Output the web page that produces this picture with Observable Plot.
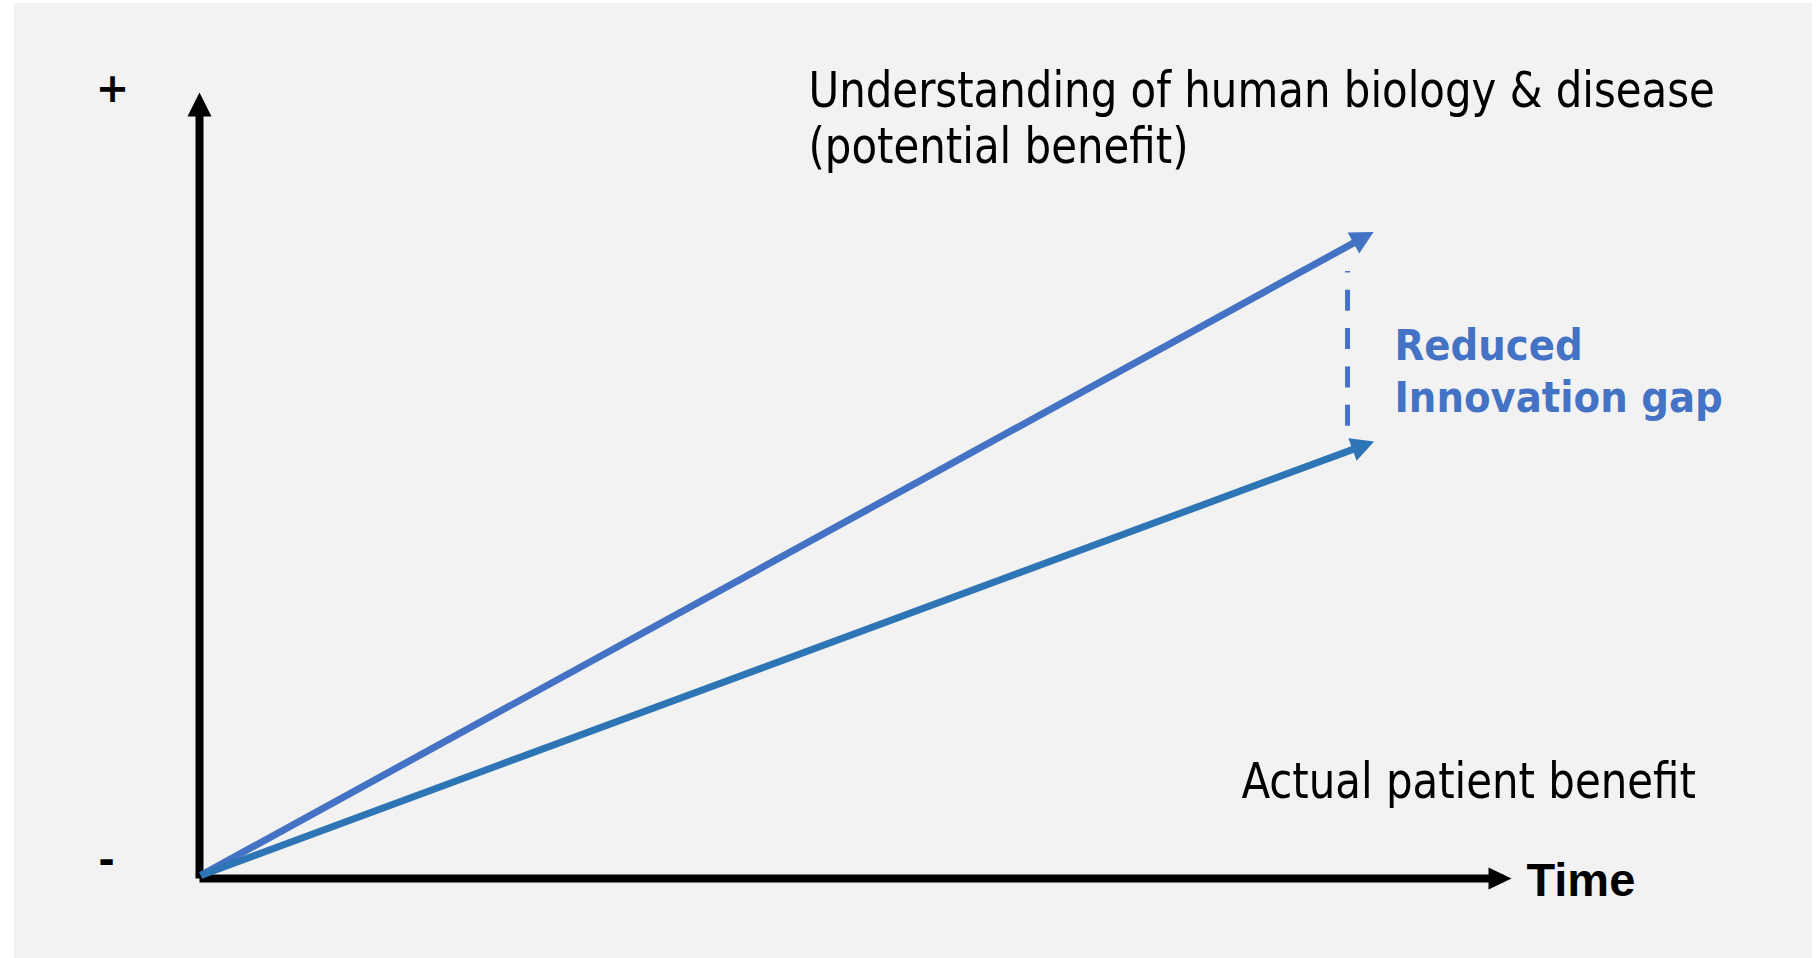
<!DOCTYPE html>
<html>
<head>
<meta charset="utf-8">
<script src="https://cdn.jsdelivr.net/npm/d3@7"></script>
<script src="https://cdn.jsdelivr.net/npm/@observablehq/plot@0.6"></script>
<style>
  html, body { margin: 0; padding: 0; background: #ffffff; }
  #chart { position: absolute; left: 14px; top: 3px; }
  #chart svg { display: block; background: #F2F2F2; }
</style>
</head>
<body>
<div id="chart"></div>
<script>
// ---- Data ----
const seriesNames = ["Understanding of human biology & disease\n(potential benefit)", "Actual patient benefit"];
const seriesColors = ["#4472C4", "#2E75B6"];
const startTime = [0.1, 0.1];
const startBenefit = [0.4, 0.4];
const endTime = [89.5, 89.5];
const endBenefit = [82.6, 55.8];

const gapLabel = "Reduced\nInnovation gap";
const gapTime = 88.04;
const gapBenefit = [58.2, 78.1]; // drawn bottom -> top

const seriesLabelTime = [46.7, 79.9];
const seriesLabelBenefit = [92.0, 10.4];
const gapLabelTime = 91.64;
const gapLabelBenefit = 60.0;

const axisMax = [100, 100];
const axisTitle = "Time";
const axisTitleTime = 101.76;
const axisTitleBenefit = -2.31;
const yTickLabels = ["+", "-"];
const yTickTime = [-6.67, -7.13];
const yTickBenefit = [101.5, 2.19];

// ---- Table built from arrays ----
const series = seriesNames.map((name, i) => ({
  name, color: seriesColors[i],
  x1: startTime[i], y1: startBenefit[i], x2: endTime[i], y2: endBenefit[i],
  lx: seriesLabelTime[i], ly: seriesLabelBenefit[i]
}));
const axes = [
  {x1: 0, y1: 0, x2: axisMax[0], y2: 0, dir: "x"},
  {x1: 0, y1: 0, x2: 0, y2: axisMax[1], dir: "y"}
];
const ticks = yTickLabels.map((t, i) => ({t, x: yTickTime[i], y: yTickBenefit[i]}));

// ---- Custom filled-triangle arrowheads ----
function headMarker(path) {
  return (color) => {
    const m = d3.create("svg:marker")
      .attr("markerUnits", "userSpaceOnUse")
      .attr("markerWidth", 1).attr("markerHeight", 1)
      .attr("refX", 0).attr("refY", 0)
      .attr("orient", "auto")
      .attr("overflow", "visible");
    m.append("path").attr("d", path).attr("fill", color).attr("stroke", "none");
    return m.node();
  };
}
const yAxisHead = headMarker("M-16,-12L8,0L-16,12Z");
const xAxisHead = headMarker("M-15,-11L8,0L-15,11Z");
const seriesHead = headMarker("M-15,-12L8,0L-15,12Z");

const mainFont = "'DejaVu Sans Condensed', 'DejaVu Sans', sans-serif";

const chart = Plot.plot({
  width: 1798,
  height: 955,
  x: {domain: [0, 100], range: [185, 1489], axis: null},
  y: {domain: [0, 100], range: [875, 97], axis: null},
  style: {background: "#F2F2F2", overflow: "visible"},
  marks: [
    // axes
    Plot.link(axes.filter(d => d.dir === "y"), {x1: "x1", y1: "y1", x2: "x2", y2: "y2",
      stroke: "#000000", strokeWidth: 8, strokeLinecap: "butt", markerEnd: yAxisHead}),
    Plot.link(axes.filter(d => d.dir === "x"), {x1: "x1", y1: "y1", x2: "x2", y2: "y2",
      stroke: "#000000", strokeWidth: 8, strokeLinecap: "butt", markerEnd: xAxisHead}),
    // series arrows
    ...series.map(s => Plot.link([s], {x1: "x1", y1: "y1", x2: "x2", y2: "y2",
      stroke: s.color, strokeWidth: 7, strokeLinecap: "butt", markerEnd: seriesHead})),
    // gap dashed line
    Plot.link([{x: gapTime, y1: gapBenefit[0], y2: gapBenefit[1]}], {x1: "x", x2: "x", y1: "y1", y2: "y2",
      stroke: seriesColors[0], strokeWidth: 5, strokeDasharray: "21,17.3", strokeLinecap: "butt"}),
    // labels
    Plot.text(series, {x: "lx", y: "ly", text: "name", textAnchor: "start", lineAnchor: "bottom",
      fontSize: 50, lineHeight: 1.12, fill: "#000000", fontFamily: mainFont, className: "narrow-label"}),
    Plot.text([gapLabel], {x: gapLabelTime, y: gapLabelBenefit, text: d => d, textAnchor: "start", lineAnchor: "bottom",
      fontSize: 43, fontWeight: "bold", lineHeight: 1.21, fill: seriesColors[0], fontFamily: mainFont}),
    Plot.text([axisTitle], {x: axisTitleTime, y: axisTitleBenefit, text: d => d, textAnchor: "start", lineAnchor: "bottom",
      fontSize: 47, fontWeight: "bold", fill: "#000000", fontFamily: "'Liberation Sans', Arial, sans-serif"}),
    Plot.text(ticks, {x: "x", y: "y", text: "t", textAnchor: "middle", lineAnchor: "middle",
      fontSize: 40, fontWeight: "bold", fill: "#000000", fontFamily: "'DejaVu Sans', sans-serif"})
  ]
});
// Tahoma-like narrower set width for the series labels
d3.select(chart).selectAll("g.narrow-label text").each(function() {
  const t = this.getAttribute("transform");
  if (t) this.setAttribute("transform", t + " scale(0.932,1)");
});
document.getElementById("chart").appendChild(chart);
</script>
</body>
</html>
